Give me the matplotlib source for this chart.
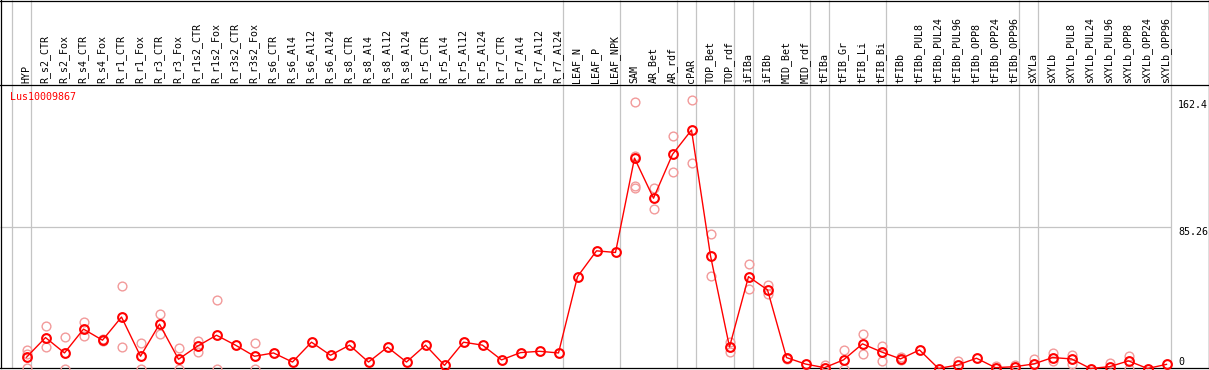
'''
Expression profile of Lus10009867 across samples
'''

#%%
import numpy as np
import matplotlib.pyplot as plt

gene = 'Lus10009867'

samples = ['HYP', 'R_s2_CTR', 'R_s2_Fox', 'R_s4_CTR', 'R_s4_Fox', 'R_r1_CTR', 'R_r1_Fox',
           'R_r3_CTR', 'R_r3_Fox', 'R_r1s2_CTR', 'R_r1s2_Fox', 'R_r3s2_CTR', 'R_r3s2_Fox',
           'R_s6_CTR', 'R_s6_Al4', 'R_s6_Al12', 'R_s6_Al24', 'R_s8_CTR', 'R_s8_Al4',
           'R_s8_Al12', 'R_s8_Al24', 'R_r5_CTR', 'R_r5_Al4', 'R_r5_Al12', 'R_r5_Al24',
           'R_r7_CTR', 'R_r7_Al4', 'R_r7_Al12', 'R_r7_Al24', 'LEAF_N', 'LEAF_P', 'LEAF_NPK',
           'SAM', 'AR_Bet', 'AR_rdf', 'cPAR', 'TOP_Bet', 'TOP_rdf', 'iFIBa', 'iFIBb',
           'MID_Bet', 'MID_rdf', 'tFIBa', 'tFIB_Gr', 'tFIB_Li', 'tFIB_Bi', 'tFIBb',
           'tFIBb_PUL8', 'tFIBb_PUL24', 'tFIBb_PUL96', 'tFIBb_OPP8', 'tFIBb_OPP24',
           'tFIBb_OPP96', 'sXYLa', 'sXYLb', 'sXYLb_PUL8', 'sXYLb_PUL24', 'sXYLb_PUL96',
           'sXYLb_OPP8', 'sXYLb_OPP24', 'sXYLb_OPP96']

# mean expression per sample
means = [6.8, 18.7, 9.4, 23.8, 17.1, 31.1, 7.4, 26.8, 5.6, 13.5, 20.1, 14.1, 7.4,
         9.4, 3.9, 15.9, 8.0, 14.1, 3.9, 12.9, 3.9, 14.1, 1.9, 15.9, 14.1, 5.2, 9.6,
         10.4, 9.4, 55.5, 71.1, 70.1, 127.1, 102.9, 129.4, 144.1, 68.1, 13.0, 55.5,
         47.5, 6.6, 2.7, 0.5, 5.2, 14.9, 10.0, 5.8, 11.2, 0.0, 2.1, 6.2, 0.5, 1.1,
         2.7, 6.6, 5.8, 0.0, 1.1, 4.6, 0.0, 2.5]

# individual replicates (only those visible apart from the mean)
replicates = [[11.2, 8.8, 0.3], [25.8, 12.9], [18.9, 0.0], [27.8, 19.7], [17.9, 16.5],
              [50.1, 12.9], [15.3, 0.0], [33.1, 20.8], [12.3, 0.0], [16.9, 10.2],
              [41.4, 0.0], [], [15.5, 0.0], [], [], [], [], [], [], [], [], [], [], [],
              [], [], [], [], [], [], [], [],
              [160.9, 128.5, 110.0, 109.3], [109.3, 96.6], [140.3, 118.8], [162.4, 123.9],
              [81.0, 56.1], [16.3, 10.2], [63.4, 48.1], [50.7, 45.0], [6.4, 5.8], [],
              [2.3], [11.0, 0.0], [20.8, 8.8], [13.7, 4.4], [7.0, 5.2], [], [], [4.7],
              [], [1.5], [2.3], [5.6], [9.2, 4.6], [8.0, 2.7], [], [3.2], [7.8, 0.0],
              [], []]

# last sample index of each group
group_ends = [-1, 0, 28, 31, 34, 35, 37, 38, 41, 42, 45, 52, 53, 60]
scale_ticks = [162.4, 85.26, 0]

#%%
W, H = 1209, 370
k = 1.655          # pixels per unit
y0 = 368.5         # pixel row of zero
step, x0 = 19., 26.5

fig = plt.figure(figsize=(W/100, H/100), dpi=100)
ax = fig.add_axes([0, 0, 1, 1])
ax.set_xlim(-x0/step, (W - x0)/step)
ax.set_ylim((y0 - H)/k, y0/k)
ax.axis('off')

def fy(p):
    return 1 - p/H

tx = ax.get_xaxis_transform()
font = dict(family='DejaVu Sans Mono', size=7.2)
x = np.arange(len(samples))

# group separators and grid
ax.vlines(np.array(group_ends) + 0.22, fy(368), 1, transform=tx, color='#c4c4c4', lw=0.9, zorder=1)
ax.hlines(85.26, -x0/step, 60.22, color='#c4c4c4', lw=0.9, zorder=1)

# frame
for p in [0.5, 85, 368]:
    ax.plot([0, 1], [fy(p), fy(p)], transform=ax.transAxes, color='black', lw=0.9, clip_on=False)
for q in [0.5, W - 0.5]:
    ax.plot([q/W, q/W], [fy(0), fy(368)], transform=ax.transAxes, color='black', lw=0.9, clip_on=False)

# sample labels
for i, s in enumerate(samples):
    ax.text(i - 0.03, fy(83), s, transform=tx, rotation=90, ha='center', va='bottom', **font)

# replicates
for i, reps in enumerate(replicates):
    if reps:
        ax.plot([i]*len(reps), reps, 'o', ms=6.3, mfc='none', mec='#f29a9a', mew=1.0, zorder=2)

# mean profile
ax.plot(x, means, '-', color='red', lw=1.0, zorder=3)
ax.plot(x, means, 'o', ms=6.3, mfc='none', mec='red', mew=1.5, zorder=4)

# scale labels
xt = (1178 - x0)/step
ax.text(xt, scale_ticks[0], '162.4', ha='left', va='top', **font)
ax.text(xt, scale_ticks[1], '85.26', ha='left', va='top', **font)
ax.text(xt, 1.2, '0', ha='left', va='bottom', **font)

ax.text((10 - x0)/step, fy(97), gene, transform=tx, color='red', ha='left', va='center', **font)

fig.savefig('out.png', dpi=100)
